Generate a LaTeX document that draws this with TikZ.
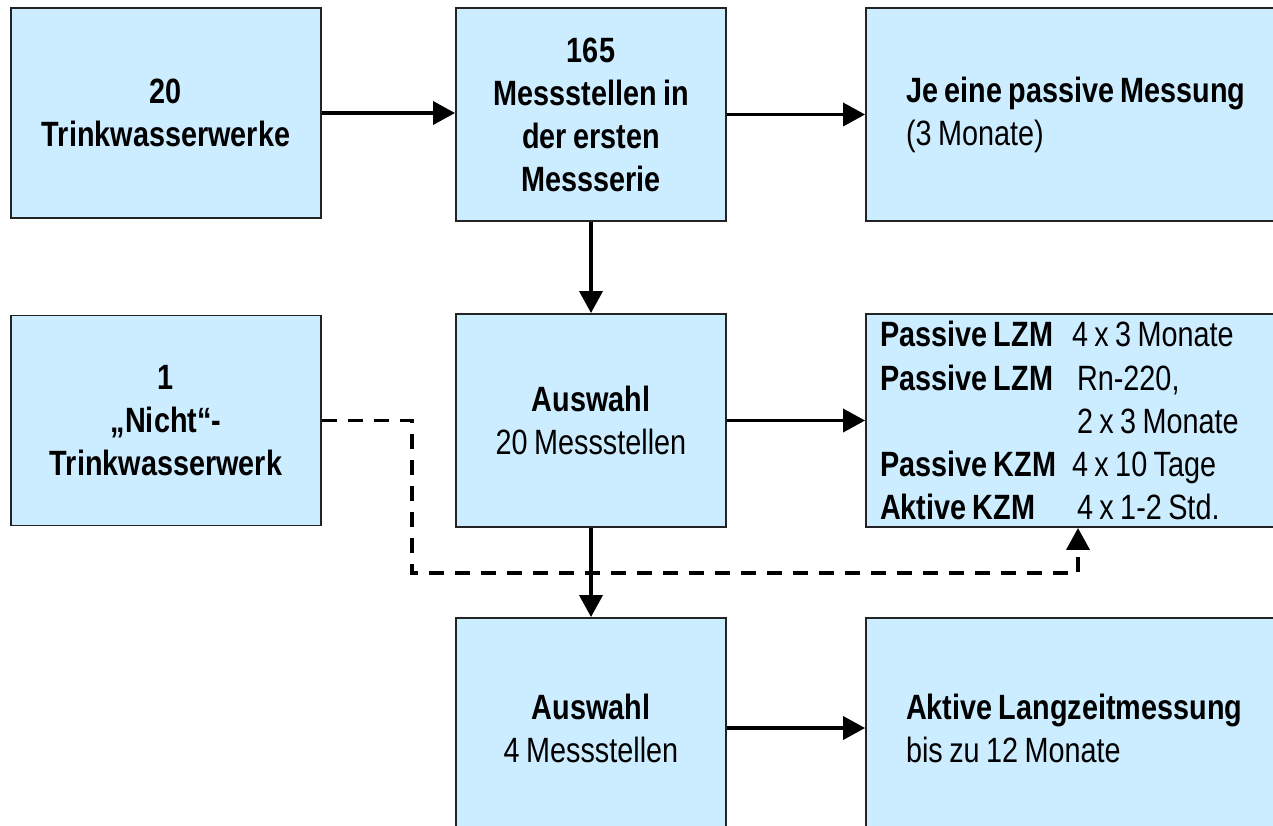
\documentclass[tikz,border=0pt]{standalone}
\usepackage{fontspec}
\setmainfont{Liberation Sans}[FakeStretch=0.82, WordSpace=0.8]
\usetikzlibrary{arrows.meta}
\definecolor{boxfill}{RGB}{204,236,255}
\definecolor{boxline}{RGB}{35,35,35}

\begin{document}
\begin{tikzpicture}[x=0.02cm, y=-0.02cm, >={Triangle[length=0.44cm,width=0.46cm]},
    box/.style={draw=boxline, fill=boxfill, line width=1.1pt, inner sep=0pt, align=center,
      font=\fontsize{20}{24.5}\selectfont},
    midbox/.style={box, minimum width=5.4cm, minimum height=4.26cm},
    sidebox/.style={box, minimum width=6.2cm, minimum height=4.2cm},
    farbox/.style={box, align=flush left, text width=7.48cm, inner xsep=0.8cm, minimum height=4.26cm},
    link/.style={->, line width=2.1pt},
    dashlink/.style={->, line width=2.1pt, dash pattern=on 0.3cm off 0.22cm}]
    \useasboundingbox (0,0) rectangle (1273,825);
    \clip (0,0) rectangle (1273,825);

    % first row
    \node[sidebox] (werke) at (166,113) {\textbf{20}\\\textbf{Trinkwasserwerke}};
    \node[midbox] (serie) at (591,114.5) {\textbf{165}\\\textbf{Messstellen in}\\\textbf{der ersten}\\\textbf{Messserie}};
    \node[farbox] (passiv) at (1093,114.5) {\textbf{Je eine passive Messung}\\(3 Monate)};

    % second row
    \node[sidebox] (nicht) at (166,420.5) {\textbf{1}\\\textbf{„Nicht“-}\\\textbf{Trinkwasserwerk}};
    \node[midbox] (wahl20) at (591,420.5) {\textbf{Auswahl}\\20 Messstellen};
    \node[farbox, text width=8.52cm, inner xsep=0.28cm] (programm) at (1093,420.5) {%
      \makebox[3.84cm][l]{\textbf{Passive LZM}}4 x 3 Monate\\
      \makebox[3.84cm][l]{\textbf{Passive LZM}}\hspace{0.1cm}Rn-220,\\
      \hspace*{3.94cm}2 x 3 Monate\\
      \makebox[3.84cm][l]{\textbf{Passive KZM}}4 x 10 Tage\\
      \makebox[3.84cm][l]{\textbf{Aktive KZM}}\hspace{0.1cm}4 x 1-2 Std.};

    % third row
    \node[midbox, minimum height=4.4cm] (wahl4) at (591,728) {\textbf{Auswahl}\\4 Messstellen};
    \node[farbox, minimum height=4.4cm] (langzeit) at (1093,728) {\textbf{Aktive Langzeitmessung}\\bis zu 12 Monate};

    % dashed route from the extra plant
    \coordinate (knick) at (412,573);
    \coordinate (ziel) at (1078,0);
    \draw[dashlink] (nicht.east) -| (knick) -| (ziel |- programm.south);

    % arrows
    \draw[link] (werke.east) -- (werke.east -| serie.west);
    \draw[link] (serie.east) -- (serie.east -| passiv.west);
    \draw[link] (serie.south) -- (wahl20.north);
    \draw[link] (wahl20.east) -- (wahl20.east -| programm.west);
    \draw[link] (wahl20.south) -- (wahl4.north);
    \draw[link] (wahl4.east) -- (wahl4.east -| langzeit.west);
\end{tikzpicture}
\end{document}
